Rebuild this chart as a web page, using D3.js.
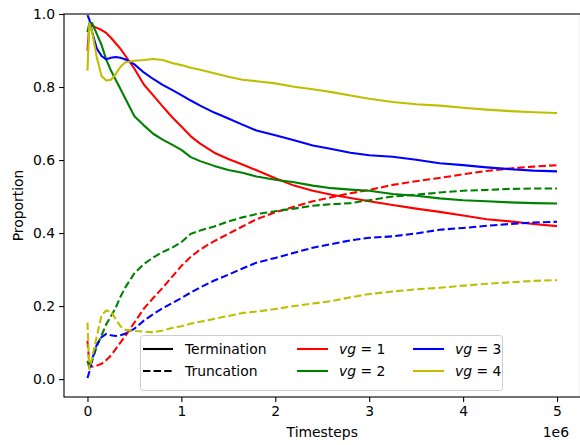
<!DOCTYPE html>
<html>
<head>
<meta charset="utf-8">
<script src="https://d3js.org/d3.v7.min.js"></script>
<style>
  body { margin: 0; background: #fff; }
  svg { display: block; font-family: "DejaVu Sans", sans-serif; }
</style>
</head>
<body>
<div id="chart"></div>
<script>
// timesteps in units of 1e6
const steps = [0, 0.02, 0.05, 0.1, 0.15, 0.2, 0.25, 0.3, 0.35, 0.4, 0.5, 0.6, 0.7, 0.8, 0.9,
  1.0, 1.1, 1.2, 1.35, 1.5, 1.65, 1.8, 2.0, 2.2, 2.4, 2.6, 2.8, 3.0, 3.25, 3.5, 3.75,
  4.0, 4.25, 4.5, 4.75, 5.0];

// termination proportion per vg
const term1 = [0.90, 0.97, 0.968, 0.962, 0.956, 0.948, 0.935, 0.92, 0.905, 0.887, 0.85, 0.807,
  0.777, 0.747, 0.718, 0.692, 0.665, 0.645, 0.62, 0.603, 0.588, 0.572, 0.55, 0.53, 0.516,
  0.505, 0.496, 0.487, 0.477, 0.467, 0.458, 0.448, 0.438, 0.432, 0.425, 0.419];
const term2 = [0.95, 0.975, 0.975, 0.945, 0.915, 0.875, 0.845, 0.82, 0.795, 0.77, 0.72, 0.695,
  0.672, 0.656, 0.642, 0.628, 0.608, 0.597, 0.584, 0.573, 0.565, 0.555, 0.546, 0.539, 0.53,
  0.523, 0.519, 0.516, 0.507, 0.502, 0.495, 0.49, 0.487, 0.484, 0.482, 0.481];
const term3 = [0.997, 0.985, 0.95, 0.905, 0.885, 0.876, 0.88, 0.882, 0.88, 0.876, 0.862, 0.84,
  0.822, 0.806, 0.792, 0.778, 0.763, 0.749, 0.73, 0.714, 0.697, 0.681, 0.668, 0.654, 0.64,
  0.63, 0.62, 0.613, 0.609, 0.601, 0.591, 0.586, 0.58, 0.575, 0.571, 0.569];
const term4 = [0.845, 0.975, 0.95, 0.88, 0.83, 0.818, 0.82, 0.835, 0.855, 0.867, 0.872, 0.874,
  0.877, 0.874, 0.866, 0.86, 0.853, 0.847, 0.838, 0.828, 0.82, 0.816, 0.81, 0.801, 0.794,
  0.786, 0.777, 0.768, 0.759, 0.753, 0.749, 0.743, 0.738, 0.734, 0.731, 0.729];

// truncation proportion per vg
const trunc1 = [0.105, 0.04, 0.034, 0.037, 0.042, 0.052, 0.065, 0.082, 0.1, 0.117, 0.155, 0.193,
  0.222, 0.25, 0.28, 0.31, 0.335, 0.355, 0.378, 0.398, 0.418, 0.438, 0.457, 0.472, 0.487,
  0.498, 0.509, 0.518, 0.532, 0.542, 0.551, 0.561, 0.57, 0.577, 0.582, 0.586];
const trunc2 = [0.05, 0.03, 0.05, 0.09, 0.12, 0.15, 0.172, 0.195, 0.225, 0.25, 0.29, 0.315,
  0.333, 0.348, 0.36, 0.375, 0.398, 0.407, 0.418, 0.432, 0.443, 0.452, 0.46, 0.467, 0.475,
  0.479, 0.482, 0.49, 0.5, 0.505, 0.511, 0.516, 0.518, 0.521, 0.522, 0.522];
const trunc3 = [0.003, 0.02, 0.055, 0.095, 0.115, 0.124, 0.12, 0.118, 0.12, 0.124, 0.138, 0.16,
  0.178, 0.194, 0.208, 0.222, 0.237, 0.251, 0.27, 0.286, 0.303, 0.319, 0.332, 0.346, 0.36,
  0.37, 0.38, 0.387, 0.391, 0.399, 0.409, 0.414, 0.42, 0.425, 0.429, 0.431];
const trunc4 = [0.155, 0.025, 0.06, 0.118, 0.175, 0.188, 0.185, 0.165, 0.145, 0.135, 0.132, 0.13,
  0.128, 0.133, 0.14, 0.145, 0.152, 0.157, 0.165, 0.173, 0.181, 0.185, 0.192, 0.2, 0.207,
  0.214, 0.224, 0.233, 0.24, 0.246, 0.25, 0.256, 0.261, 0.265, 0.269, 0.271];

const vgs = [1, 2, 3, 4];
const colors = ["#ff0000", "#008000", "#0000ff", "#bfbf00"];
const termSeries = [term1, term2, term3, term4];
const truncSeries = [trunc1, trunc2, trunc3, trunc4];
const xTicks = [0, 1, 2, 3, 4, 5];
const yTicks = [0, 0.2, 0.4, 0.6, 0.8, 1.0];

const W = 580, H = 445;
const margin = {left: 64, right: 580.5, top: 14, bottom: 397};
const dash = "7.4,3.2";

const svg = d3.select("#chart").append("svg")
    .attr("width", W)
    .attr("height", H);

const x = d3.scaleLinear().domain([-0.25, 5.25]).range([margin.left, margin.right]);
const y = d3.scaleLinear().domain([-0.049, 1.0]).range([margin.bottom, margin.top]);

const line = d3.line()
    .x((d, i) => x(steps[i]))
    .y(d => y(d));

// lines
vgs.forEach((vg, k) => {
    svg.append("path")
        .attr("d", line(termSeries[k]))
        .attr("fill", "none")
        .attr("stroke", colors[k])
        .attr("stroke-width", 2.08)
        .attr("stroke-linejoin", "round");
    svg.append("path")
        .attr("d", line(truncSeries[k]))
        .attr("fill", "none")
        .attr("stroke", colors[k])
        .attr("stroke-width", 2.08)
        .attr("stroke-dasharray", dash);
});

// axes
const xAxis = svg.append("g")
    .attr("transform", `translate(0,${margin.bottom})`)
    .call(d3.axisBottom(x).tickValues(xTicks).tickFormat(d3.format("d"))
        .tickSizeInner(4.9).tickSizeOuter(0).tickPadding(4));
const yAxis = svg.append("g")
    .attr("transform", `translate(${margin.left},0)`)
    .call(d3.axisLeft(y).tickValues(yTicks).tickFormat(d3.format(".1f"))
        .tickSizeInner(4.9).tickSizeOuter(0).tickPadding(4));

[xAxis, yAxis].forEach(g => {
    g.select(".domain").remove();
    g.selectAll(".tick line").attr("stroke", "#000").attr("stroke-width", 1.1);
    g.selectAll(".tick text")
        .attr("fill", "#000")
        .style("font-size", "13.9px")
        .style("font-family", "DejaVu Sans");
});

// spines
svg.append("rect")
    .attr("x", margin.left).attr("y", margin.top)
    .attr("width", margin.right - margin.left).attr("height", margin.bottom - margin.top)
    .attr("fill", "none")
    .attr("stroke", "#000")
    .attr("stroke-width", 1.1);

// labels
svg.append("text")
    .attr("x", (margin.left + margin.right) / 2)
    .attr("y", 437)
    .attr("text-anchor", "middle")
    .style("font-size", "13.9px")
    .text("Timesteps");

svg.append("text")
    .attr("transform", `translate(23,${(margin.top + margin.bottom) / 2}) rotate(-90)`)
    .attr("text-anchor", "middle")
    .style("font-size", "13.9px")
    .text("Proportion");

svg.append("text")
    .attr("x", 569)
    .attr("y", 437)
    .attr("text-anchor", "end")
    .style("font-size", "13.9px")
    .text("1e6");

// legend
const legend = svg.append("g");
legend.append("rect")
    .attr("x", 140.5).attr("y", 335.5)
    .attr("width", 362).attr("height", 55)
    .attr("rx", 3)
    .attr("fill", "#fff")
    .attr("fill-opacity", 0.8)
    .attr("stroke", "#cccccc")
    .attr("stroke-width", 1);

const rowY = [349, 371];
const styleItems = [
    {label: "Termination", dash: null},
    {label: "Truncation", dash: dash}
];
styleItems.forEach((it, i) => {
    legend.append("line")
        .attr("x1", 143).attr("x2", 173)
        .attr("y1", rowY[i]).attr("y2", rowY[i])
        .attr("stroke", "#000")
        .attr("stroke-width", 2.08)
        .attr("stroke-dasharray", it.dash);
    legend.append("text")
        .attr("x", 185).attr("y", rowY[i] + 5)
        .style("font-size", "13.9px")
        .text(it.label);
});

const colX = [297, 413];
vgs.forEach((vg, k) => {
    const cx = colX[Math.floor(k / 2)];
    const cy = rowY[k % 2];
    legend.append("line")
        .attr("x1", cx).attr("x2", cx + 31)
        .attr("y1", cy).attr("y2", cy)
        .attr("stroke", colors[k])
        .attr("stroke-width", 2.08);
    const t = legend.append("text")
        .attr("x", cx + 42).attr("y", cy + 5)
        .style("font-size", "13.9px");
    t.append("tspan").style("font-style", "italic").text("vg");
    t.append("tspan").text(" = " + vg);
});
</script>
</body>
</html>
